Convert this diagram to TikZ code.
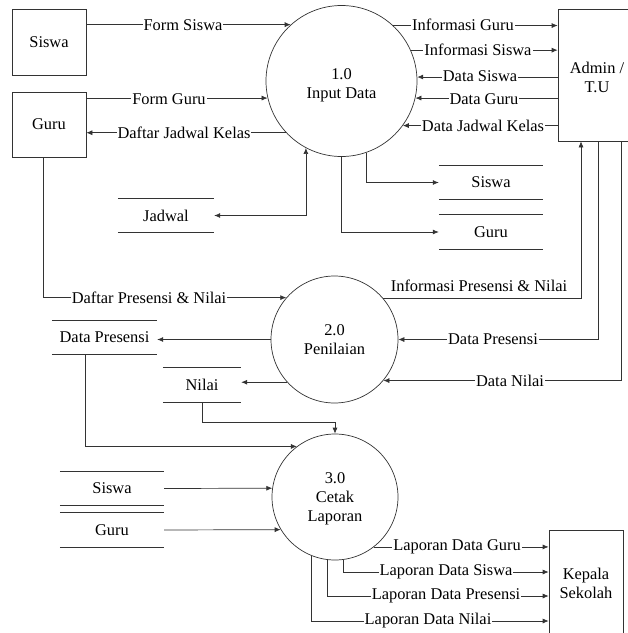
\documentclass[tikz,border=0pt]{standalone}
\usepackage{fontspec}
\setmainfont{Liberation Serif}
\usetikzlibrary{arrows.meta,calc}
\newcommand\dfont{\fontsize{16.4}{19}\selectfont}
\tikzset{
  lc/.style={draw=black!80, line width=0.7pt},
  flow/.style={lc, -{Latex[length=6pt,width=5pt]}},
  biflow/.style={lc, {Latex[length=6pt,width=5pt]}-{Latex[length=6pt,width=5pt]}},
  entity/.style={lc, rectangle, inner sep=0pt, align=center, font=\dfont},
  proc/.style={lc, circle, inner sep=0pt, align=center, font=\dfont},
  ptext/.style={inner sep=0pt, align=center, font=\dfont},
  store/.style={inner sep=0pt, font=\dfont,
    append after command={(\tikzlastnode.north west) edge[lc] (\tikzlastnode.north east)
                          (\tikzlastnode.south west) edge[lc] (\tikzlastnode.south east)}},
  lbl/.style={fill=white, inner sep=1pt, font=\dfont},
  plain/.style={inner sep=1pt, font=\dfont},
}
\begin{document}
\begin{tikzpicture}[x=1pt,y=-1pt]
\useasboundingbox (0,0) rectangle (628,633);
\clip (0,0) rectangle (628,633);

% external entities
\node[entity, minimum width=74pt, minimum height=66pt] (siswa) at (49,42) {Siswa};
\node[entity, minimum width=74pt, minimum height=65pt] (guru) at (49,124.5) {Guru};
\node[entity, minimum width=78pt, minimum height=132pt] (admin) at (597,75) {};
\node[ptext] (admintext) at ([yshift=-2pt]admin.center) {Admin /\\T.U};
\node[entity, minimum width=74pt, minimum height=106pt] (kepala) at (586,583) {Kepala\\Sekolah};

% processes
\node[proc, minimum size=151pt] (p1) at (341.5,81) {};
\node[ptext] (p1text) at ([yshift=-4pt]p1.center) {1.0\\Input Data};
\node[proc, minimum size=127pt] (p2) at (334.5,339.5) {2.0\\Penilaian};
\node[proc, minimum size=126pt] (p3) at (335,497) {};
\node[ptext] (p3text) at ([yshift=-1.5pt]p3.center) {3.0\\Cetak\\Laporan};

% data stores
\node[store, minimum width=104pt, minimum height=33pt] (sSiswa1) at (491,182.5) {Siswa};
\node[store, minimum width=104pt, minimum height=34pt] (sGuru1) at (491,232) {Guru};
\node[store, minimum width=96pt, minimum height=33pt] (sJadwal) at (166,215.5) {Jadwal};
\node[store, minimum width=105pt, minimum height=33pt] (sPresensi) at (104.5,337.5) {Data Presensi};
\node[store, minimum width=78pt, minimum height=34pt] (sNilai) at (202,385) {Nilai};
\node[store, minimum width=104pt, minimum height=33pt] (sSiswa2) at (112,488.5) {Siswa};
\node[store, minimum width=104pt, minimum height=34pt] (sGuru2) at (112,530) {Guru};

% process 1 flows
\draw[flow] (siswa.east |- p1.132.1) -- (p1.132.1);
\draw[flow] (guru.east |- p1.193.8) -- (p1.193.8);
\draw[flow] (p1.223.5) -- (guru.east |- p1.223.5);
\draw[biflow] (sJadwal.east) -| (p1.242.8);
\draw[flow] (p1.47.9) -- (admin.west |- p1.47.9);
\draw[flow] (p1.24.2) -- (admin.west |- p1.24.2);
\draw[flow] (admin.west |- p1.3.8) -- (p1.3.8);
\draw[flow] (admin.west |- p1.-13.8) -- (p1.-13.8);
\draw[flow] (admin.west |- p1.-36.6) -- (p1.-36.6);
\draw[flow] (p1.-71.9) |- (sSiswa1.west);
\draw[flow] (p1.south) |- (sGuru1.west);

\node[lbl] (lFormSiswa) at (183,25) {Form Siswa};
\node[lbl] (lFormGuru) at (169,99) {Form Guru};
\node[lbl] (lDaftarJadwal) at (184,133) {Daftar Jadwal Kelas};
\node[lbl] (lInfoGuru) at (463,25) {Informasi Guru};
\node[lbl] (lInfoSiswa) at (478,50) {Informasi Siswa};
\node[lbl] (lDataSiswa) at (480,76) {Data Siswa};
\node[lbl] (lDataGuru) at (484,99) {Data Guru};
\node[lbl] (lDataJadwal) at (483,126) {Data Jadwal Kelas};

% process 2 flows
\draw[flow] ([xshift=-6pt]guru.south) |- (p2.139.2);
\draw[flow] (p2.40.8) -| ([xshift=-16pt]admin.south);
\draw[flow] ([xshift=1pt]admin.south) |- (p2.east);
\draw[flow] ([xshift=24pt]admin.south) |- (p2.-40.8);
\draw[flow] (p2.west) -- (sPresensi.east |- p2.west);
\draw[flow] (p2.222) -- (sNilai.east |- p2.222);

\node[lbl] (lDaftarPresensi) at (149,298) {Daftar Presensi \& Nilai};
\node[plain] (lInfoPresensi) at (479,286) {Informasi Presensi \& Nilai};
\node[lbl] (lDataPresensi) at (493,339.5) {Data Presensi};
\node[lbl] (lDataNilai) at (510,381) {Data Nilai};

% process 3 flows
\draw[flow] (sNilai.south) -- ++(0,20) -| (p3.north);
\draw[flow] ([xshift=-19.5pt]sPresensi.south) |- (p3.127.5);
\draw[flow] (sSiswa2.east) -- (p3.172.2);
\draw[flow] (sGuru2.east) -- (p3.211.6);
\draw[flow] (p3.-52.5) -- (kepala.west |- p3.-52.5);
\draw[flow] (p3.-82.7) |- ([yshift=11pt]kepala.west);
\draw[flow] (p3.263.6) |- ([yshift=-13pt]kepala.west);
\draw[flow] (p3.248.6) |- ([yshift=-38pt]kepala.west);

\node[lbl] (lLapGuru) at (457,547) {Laporan Data Guru};
\node[lbl] (lLapSiswa) at (446,572) {Laporan Data Siswa};
\node[lbl] (lLapPresensi) at (446,596) {Laporan Data Presensi};
\node[lbl] (lLapNilai) at (428,621) {Laporan Data Nilai};
\end{tikzpicture}
\end{document}
